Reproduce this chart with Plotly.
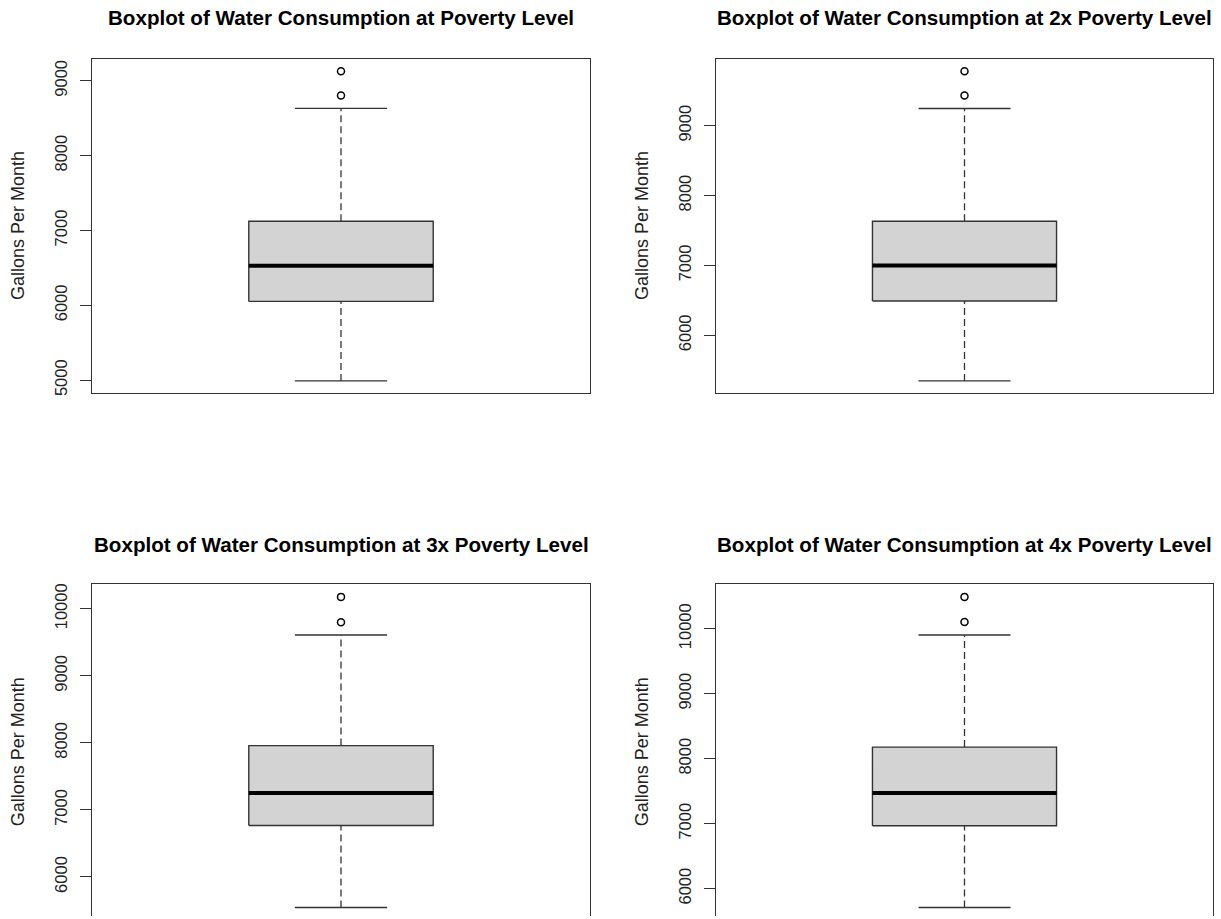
import plotly.graph_objects as go

# ---- data ----
titles = [
    "Boxplot of Water Consumption at Poverty Level",
    "Boxplot of Water Consumption at 2x Poverty Level",
    "Boxplot of Water Consumption at 3x Poverty Level",
    "Boxplot of Water Consumption at 4x Poverty Level",
]
lower_whisker = [4991, 5347, 5544, 5709]
q1 = [6053, 6490, 6767, 6969]
median = [6529, 7000, 7253, 7470]
q3 = [7124, 7633, 7960, 8178]
upper_whisker = [8631, 9247, 9609, 9903]
outliers = [[8804, 9129], [9433, 9781], [9798, 10178], [10103, 10490]]
y_label = "Gallons Per Month"

W, H = 1221, 919
# panel frames in pixels: (left, right, top, bottom)
frames = [(92, 590, 58, 394), (716, 1213, 58, 394),
          (92, 590, 586, 923), (716, 1213, 586, 923)]
title_y = [17, 17, 546, 546]
title_fs = 20.6
ytitle_x = [18, 642, 18, 642]

FONT = "Liberation Sans, Arial, sans-serif"
LINE = "#333333"

fig = go.Figure()
annotations = []

for i in range(4):
    xa = "x" if i == 0 else f"x{i+1}"
    ya = "y" if i == 0 else f"y{i+1}"
    lo, a, m, b, hi = lower_whisker[i], q1[i], median[i], q3[i], upper_whisker[i]
    outs = outliers[i]
    dmin, dmax = min([lo] + outs), max([hi] + outs)
    span = dmax - dmin
    r0, r1 = dmin - 0.04 * span, dmax + 0.04 * span

    L, R, T, B = frames[i]
    vis_bottom = min(B, H)
    # visible range (bottom panels are cut by the picture edge)
    r0_vis = r0 + (r1 - r0) * (B - vis_bottom) / (B - T)

    # whiskers (dashed)
    fig.add_trace(go.Scatter(x=[1, 1, None, 1, 1], y=[lo, a, None, b, hi], mode="lines",
                             line=dict(color=LINE, width=1.3, dash="7px,4px"),
                             xaxis=xa, yaxis=ya, showlegend=False, hoverinfo="skip"))
    # staples
    fig.add_trace(go.Scatter(x=[0.9, 1.1, None, 0.9, 1.1], y=[lo, lo, None, hi, hi], mode="lines",
                             line=dict(color=LINE, width=1.4),
                             xaxis=xa, yaxis=ya, showlegend=False, hoverinfo="skip"))
    # box
    fig.add_trace(go.Scatter(x=[0.8, 1.2, 1.2, 0.8, 0.8], y=[a, a, b, b, a], mode="lines",
                             fill="toself", fillcolor="#D3D3D3",
                             line=dict(color=LINE, width=1.4),
                             xaxis=xa, yaxis=ya, showlegend=False, hoverinfo="skip"))
    # median
    fig.add_trace(go.Scatter(x=[0.8, 1.2], y=[m, m], mode="lines",
                             line=dict(color="black", width=4),
                             xaxis=xa, yaxis=ya, showlegend=False, hoverinfo="skip"))
    # outliers
    fig.add_trace(go.Scatter(x=[1] * len(outs), y=outs, mode="markers",
                             marker=dict(symbol="circle-open", size=7, color="black",
                                         line=dict(width=1.5)),
                             xaxis=xa, yaxis=ya, showlegend=False, hoverinfo="skip"))

    top_row = i < 2
    xkey = "xaxis" if i == 0 else f"xaxis{i+1}"
    ykey = "yaxis" if i == 0 else f"yaxis{i+1}"
    fig.update_layout(**{
        xkey: dict(domain=[L / W, R / W], range=[0.46, 1.54], anchor=ya,
                   showgrid=False, zeroline=False, showticklabels=False, ticks="",
                   showline=True, linecolor=LINE, linewidth=1.4,
                   mirror=True if top_row else False,
                   side="bottom" if top_row else "top", fixedrange=True),
        ykey: dict(domain=[1 - vis_bottom / H, 1 - T / H], range=[r0_vis, r1], anchor=xa,
                   showgrid=False, zeroline=False, dtick=1000, tick0=0, tickformat="d",
                   ticks="outside", ticklen=11, tickwidth=1.3, tickcolor=LINE,
                   tickangle=-90, ticklabelstandoff=6,
                   tickfont=dict(family=FONT, size=16.5, color="#222222"),
                   showline=True, linecolor=LINE, linewidth=1.4, mirror=True,
                   fixedrange=True),
    })

    annotations.append(dict(text=f"<b>{titles[i]}</b>", x=(L + R) / 2 / W, y=1 - title_y[i] / H,
                            xref="paper", yref="paper", xanchor="center", yanchor="middle",
                            showarrow=False, font=dict(family=FONT, size=title_fs, color="black")))
    annotations.append(dict(text=y_label, x=ytitle_x[i] / W, y=1 - ((T + B) / 2) / H,
                            xref="paper", yref="paper", xanchor="center", yanchor="middle",
                            textangle=-90, showarrow=False,
                            font=dict(family=FONT, size=18, color="#222222")))

fig.update_layout(width=W, height=H, margin=dict(l=0, r=0, t=0, b=0),
                  paper_bgcolor="white", plot_bgcolor="white",
                  annotations=annotations, showlegend=False)

fig.write_html("out.html")
